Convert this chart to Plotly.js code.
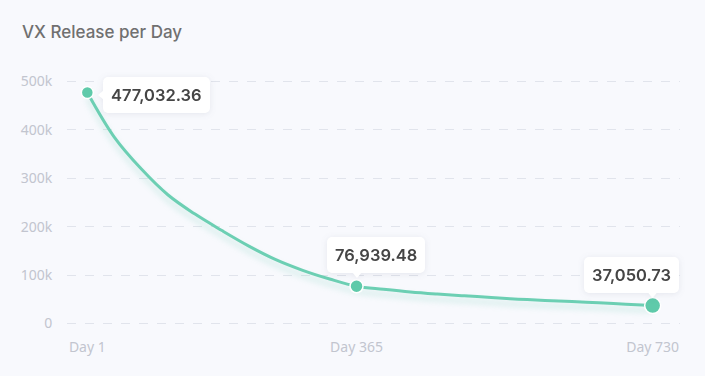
<!DOCTYPE html>
<html>
<head>
<meta charset="utf-8">
<script src="https://cdn.plot.ly/plotly-3.0.1.min.js"></script>
<style>
  html, body { margin: 0; padding: 0; background: #f8f9fd; }
  #chart { width: 705px; height: 376px; }
</style>
</head>
<body>
<div id="chart"></div>
<script>
// ---- data ----
const chartTitle = "VX Release per Day";
const days = [1, 37, 74, 110, 147, 183, 219, 256, 292, 328, 365, 398, 431, 464, 497, 530, 564, 597, 630, 663, 696, 730];
const release = [477032.36, 385000, 319500, 265500, 226000, 192000, 160000, 132000, 110000, 92000, 76939.48,
                 70800, 65300, 61000, 57300, 53900, 50400, 47800, 45300, 42700, 40000, 37050.73];
const labelDays = [1, 365, 730];
const labelValues = [477032.36, 76939.48, 37050.73];
const xTickDays = [1, 365, 730];
const yTickVals = [0, 100000, 200000, 300000, 400000, 500000];
const yTickText = ["0", "100k", "200k", "300k", "400k", "500k"];

const dayLabel = d => "Day " + d;
const fmt = v => v.toLocaleString("en-US", {minimumFractionDigits: 2, maximumFractionDigits: 2});

const green = "#6ccfb3";

const lineTrace = {
  type: "scatter", mode: "lines",
  x: days.map(dayLabel), y: release,
  line: {color: green, width: 3, shape: "spline", smoothing: 1},
  hoverinfo: "skip", cliponaxis: false
};
const markerTrace = {
  type: "scatter", mode: "markers",
  x: labelDays.map(dayLabel), y: labelValues,
  marker: {color: "#5fcaaa", opacity: 1, size: [12, 13, 16], line: {color: "#ffffff", width: 1.5}},
  hoverinfo: "skip", cliponaxis: false
};

// label placement (styles only)
const annStyle = [
  {xanchor: "left", yanchor: "middle", xshift: 16, yshift: -2, tail: "left"},
  {xanchor: "center", yanchor: "bottom", xshift: 19, yshift: 13, tail: "down"},
  {xanchor: "center", yanchor: "bottom", xshift: -21, yshift: 13, tail: "down"}
];
const annotations = labelDays.map((d, i) => Object.assign({
  x: dayLabel(d), y: labelValues[i], xref: "x", yref: "y",
  text: fmt(labelValues[i]), showarrow: false,
  font: {family: "Inter, 'Noto Sans', sans-serif", size: 16.5, color: "#454545", weight: 600},
  bgcolor: "#ffffff", borderpad: 8, borderwidth: 0
}, annStyle[i]));

const tickFont = {family: "'Noto Sans', Inter, sans-serif", size: 14, color: "#c2c5cf"};

const layout = {
  width: 705, height: 376,
  paper_bgcolor: "#f8f9fd", plot_bgcolor: "#f8f9fd",
  margin: {l: 67, r: 25, t: 80, b: 51},
  showlegend: false,
  title: {
    text: chartTitle, xref: "container", yref: "container",
    x: 22 / 705, xanchor: "left", y: 1 - 32 / 376, yanchor: "middle",
    font: {family: "Inter, 'Noto Sans', sans-serif", size: 17, color: "#707070", weight: 500}
  },
  xaxis: {
    type: "category",
    categoryorder: "array", categoryarray: days.map(dayLabel),
    range: [-0.755, 22.015],
    tickmode: "array", tickvals: xTickDays.map(dayLabel), ticktext: xTickDays.map(dayLabel),
    showgrid: false, zeroline: false, showline: false,
    ticks: "outside", ticklen: 9, tickcolor: "rgba(0,0,0,0)",
    tickfont: tickFont
  },
  yaxis: {
    range: [-3000, 503000],
    tickmode: "array", tickvals: yTickVals, ticktext: yTickText,
    showgrid: true, gridcolor: "#e1e4ec", gridwidth: 1, griddash: "dash",
    zeroline: false, showline: false,
    ticks: "outside", ticklen: 11, tickcolor: "rgba(0,0,0,0)",
    tickfont: tickFont
  },
  annotations: annotations
};

Plotly.newPlot("chart", [lineTrace, markerTrace], layout, {displayModeBar: false, staticPlot: true}).then(gd => {
  // soft shadow under the line
  gd.querySelectorAll(".scatterlayer .trace path.js-line").forEach(p => {
    p.style.filter = "drop-shadow(0px 5px 3px rgba(111,207,179,0.35))";
  });
  // rounded label boxes with tails and a faint shadow
  const svgNS = "http://www.w3.org/2000/svg";
  gd.querySelectorAll(".annotation").forEach((g, i) => {
    const rect = g.querySelector("rect.bg");
    if (!rect) return;
    rect.setAttribute("rx", 5); rect.setAttribute("ry", 5);
    const x = +rect.getAttribute("x"), y = +rect.getAttribute("y");
    const w = +rect.getAttribute("width"), h = +rect.getAttribute("height");
    const st = annStyle[i];
    const tail = document.createElementNS(svgNS, "path");
    let dpath;
    if (st.tail === "left") {
      const cy = y + h / 2;
      dpath = `M${x + 1},${cy - 5} L${x - 5},${cy} L${x + 1},${cy + 5} Z`;
    } else {
      const cx = x + w / 2 - st.xshift;
      const by = y + h;
      dpath = `M${cx - 5},${by - 1} L${cx},${by + 5} L${cx + 5},${by - 1} Z`;
    }
    tail.setAttribute("d", dpath);
    tail.setAttribute("fill", "#ffffff");
    rect.parentNode.insertBefore(tail, rect.nextSibling);
    rect.parentNode.style.filter = "drop-shadow(0px 1px 3px rgba(60,70,100,0.10))";
  });
});
</script>
</body>
</html>
